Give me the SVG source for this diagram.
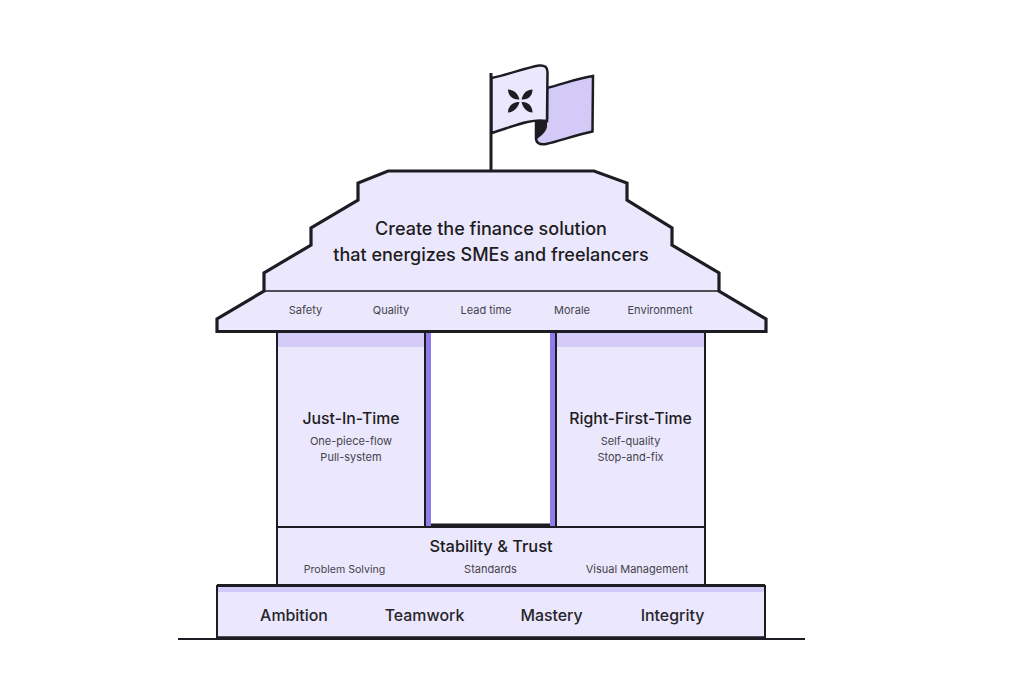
<svg xmlns="http://www.w3.org/2000/svg" width="1024" height="695" viewBox="0 0 1024 695">
  <style>
    text { font-family: Inter, "Liberation Sans", sans-serif; text-anchor: middle; }
    .line { stroke: #1d1c22; stroke-linejoin: miter; fill: none; }
    .panel { fill: #ebe7fc; stroke: #1d1c22; }
    .panel-plain { fill: #ebe7fc; }
    .band { fill: #d3caf7; }
    .post { fill: #8f7cea; }
    .back { fill: #d3caf7; stroke: #1d1c22; }
    .title { font-size: 18px; font-weight: 500; fill: #1d1c22; }
    .head { font-size: 15.800px; font-weight: 500; fill: #1d1c22; }
    .small { font-size: 11px; fill: #45434c; }
    .value { font-size: 15.900px; font-weight: 500; fill: #26252b; }
  </style>

  <g id="ground">
    <path class="line" stroke-width="2" d="M178 639H805"/>
  </g>

  <g id="flag">
    <path class="line" stroke-width="3" d="M491 73V171"/>
    <path class="back" stroke-width="2.500" d="M547 88C563 84 578 78 593 76L592.500 131.500C575 135 560 141 546 144C539 145.500 535.500 142 536 137V120L547 118Z"/>
    <path fill="#1d1c22" d="M536 122C540 121 544 120 547 120V127C546 132 541 136 537 139Z"/>
    <path class="panel" stroke-width="2.500" d="M491.500 78C510 74 525 68 539 65.500C545 65 547.500 67 547.500 72L547 121C530 118 512 127 491.500 133Z"/>
    <g id="flag-mark" fill="#1d1c22">
      <path d="M519.500 99.500C518 93 513 89.500 508 89.500C508 95 512 100 519.500 99.500Z"/>
      <path d="M521.500 99.500C529 100 532.500 95 532.500 89.500C527 89.500 523 93 521.500 99.500Z"/>
      <path d="M519.500 102C512 101.500 508 107 508 112.500C513 112.500 518 108 519.500 102Z"/>
      <path d="M521.500 102C523 108 527 112.500 532.500 112.500C532.500 107 529 101.500 521.500 102Z"/>
    </g>
  </g>

  <g id="roof">
    <path class="panel" stroke-width="3.200" d="M388 171H594L627 183V200L672 228V245L719 273V291L766 319V331.500H217V319L264 291V273L311 245V228L358 200V183Z"/>
    <path class="line" stroke-width="1.500" d="M264 291H719"/>
    <text class="title" x="491" y="234.500">Create the finance solution</text>
    <text class="title" x="491" y="260.500">that energizes SMEs and freelancers</text>
  </g>

  <g id="outcomes">
    <text class="small" x="305.500" y="314">Safety</text>
    <text class="small" x="391" y="314">Quality</text>
    <text class="small" x="486" y="314">Lead time</text>
    <text class="small" x="572" y="314">Morale</text>
    <text class="small" x="660" y="314">Environment</text>
  </g>

  <g id="just-in-time">
    <rect class="panel-plain" x="277" y="333" width="148" height="194"/>
    <rect class="band" x="278" y="333" width="146" height="14"/>
    <path class="post" d="M425 333H431V526H425Z"/>
    <path class="line" stroke-width="2" d="M277 332V527H425V333"/>
    <text class="head" x="351" y="423.500">Just-In-Time</text>
    <text class="small" x="351" y="445">One-piece-flow</text>
    <text class="small" x="351" y="461">Pull-system</text>
  </g>

  <g id="right-first-time">
    <rect class="panel-plain" x="556" y="333" width="149" height="194"/>
    <rect class="band" x="557" y="333" width="147" height="14"/>
    <path class="post" d="M550 333H556V526H550Z"/>
    <path class="line" stroke-width="2" d="M556 333V527H705V332"/>
    <text class="head" x="630.500" y="423.500">Right-First-Time</text>
    <text class="small" x="630.500" y="445">Self-quality</text>
    <text class="small" x="630.500" y="461">Stop-and-fix</text>
  </g>

  <g id="doorway">
    <path class="line" stroke-width="3" d="M431 525H550"/>
  </g>

  <g id="stability">
    <rect class="panel" stroke-width="2" x="277" y="527" width="428" height="58"/>
    <text class="head" x="491" y="551.500" style="font-size:16.400px">Stability &amp; Trust</text>
    <text class="small" x="344.500" y="573" style="font-size:10.600px">Problem Solving</text>
    <text class="small" x="490.500" y="573">Standards</text>
    <text class="small" x="637" y="573">Visual Management</text>
  </g>

  <g id="foundation">
    <rect class="panel-plain" x="217" y="586" width="548" height="52"/>
    <rect class="band" x="218" y="587" width="546" height="5"/>
    <path class="line" stroke-width="2" d="M217 638V586H765V638"/>
    <path class="line" stroke-width="3" d="M217 585.500H765"/>
    <path class="line" stroke-width="3.500" d="M217 638H765"/>
    <text class="value" x="294" y="621">Ambition</text>
    <text class="value" x="424.500" y="621">Teamwork</text>
    <text class="value" x="551.500" y="621">Mastery</text>
    <text class="value" x="672.500" y="621">Integrity</text>
  </g>
</svg>
